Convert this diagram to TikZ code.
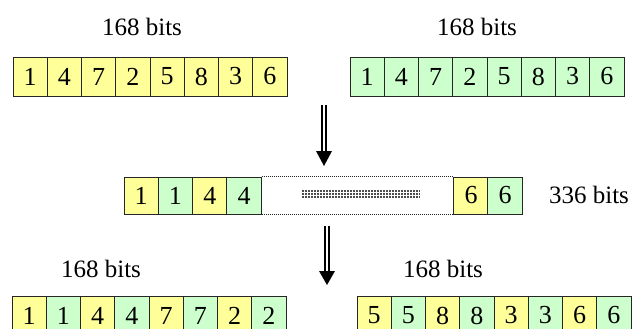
\documentclass[tikz,border=0pt]{standalone}
\usepackage{fontspec}
\setmainfont{Liberation Serif}
\definecolor{cy}{HTML}{FFFF99}
\definecolor{cg}{HTML}{CCFFCC}
\begin{document}
\begin{tikzpicture}[x=1pt,y=-1pt,
  cell/.style={rectangle,draw=black!85,line width=0.9pt,minimum width=34.25pt,minimum height=39pt,inner sep=0pt,font=\fontsize{26}{28}\selectfont},
  digit/.style={inner sep=0pt,font=\fontsize{26}{28}\selectfont},
  lbl/.style={font=\fontsize{25}{28}\selectfont,inner sep=0pt},
  shaft/.style={line width=1.8pt,double=white,double distance=2.2pt},
  dotline/.style={line width=0.8pt,dash pattern=on 1pt off 1pt,black!85}]
\useasboundingbox (0,0) rectangle (632,329);
\clip (0,0) rectangle (632,329);
% top rows
\foreach \d [count=\i from 0] in {1,4,7,2,5,8,3,6}
  \node[cell,fill=cy] (tl\i) at (13+17.125+\i*34.25,76.5) {\d};
\foreach \d [count=\i from 0] in {1,4,7,2,5,8,3,6}
  \node[cell,fill=cg] (tr\i) at (350+17.125+\i*34.25,76.5) {\d};
\node[lbl] (ltl) at (142,27) {168 bits};
\node[lbl] (ltr) at (477,27) {168 bits};
% arrow 1
\coordinate (a1s) at (324,105);
\coordinate (a1h) at (324,151);
\coordinate (a1t) at (324,166);
\draw[shaft] (a1s) -- (a1h);
\fill (a1h) ++(-8,0) -- ++(16,0) -- (a1t) -- cycle;
% middle row
\foreach \d/\c [count=\i from 0] in {1/cy,1/cg,4/cy,4/cg}
  \node[cell,fill=\c,minimum height=37pt] (m\i) at (124+17.15+\i*34.3,195.5) {\d};
\node[cell,fill=cy,minimum height=37pt] (m4) at (454+17,195.5) {6};
\node[cell,fill=cg,minimum height=37pt] (m5) at (488+17,195.5) {6};
\draw[dotline] (m3.north east) -- (m4.north west);
\draw[dotline] (m3.south east) -- (m4.south west);
\foreach \yy in {191,194,197}
  \draw[line width=1.5pt,dash pattern=on 1.6pt off 1.4pt,black!70] (302,\yy) -- (420,\yy);
\node[lbl] (lm) at (589,195) {336 bits};
% arrow 2
\coordinate (a2s) at (327,226);
\coordinate (a2h) at (327,271);
\coordinate (a2t) at (327,285);
\draw[shaft] (a2s) -- (a2h);
\fill (a2h) ++(-8,0) -- ++(16,0) -- (a2t) -- cycle;
% bottom rows (cut by the lower edge, as in the reference)
\foreach \d/\c [count=\i from 0] in {1/cy,1/cg,4/cy,4/cg,7/cy,7/cg,2/cy,2/cg}{
  \node[cell,fill=\c] (bl\i) at (12+17.125+\i*34.25,315.5) {};
  \node[digit] (bld\i) at (bl\i.center) {\d};}
\foreach \d/\c [count=\i from 0] in {5/cy,5/cg,8/cy,8/cg,3/cy,3/cg,6/cy,6/cg}{
  \node[cell,fill=\c] (br\i) at (357+17.125+\i*34.25,315.5) {};
  \node[digit] (brd\i) at (br\i.center) {\d};}
\node[lbl] (lbl1) at (101,269) {168 bits};
\node[lbl] (lbr) at (443,269) {168 bits};
\end{tikzpicture}
\end{document}
